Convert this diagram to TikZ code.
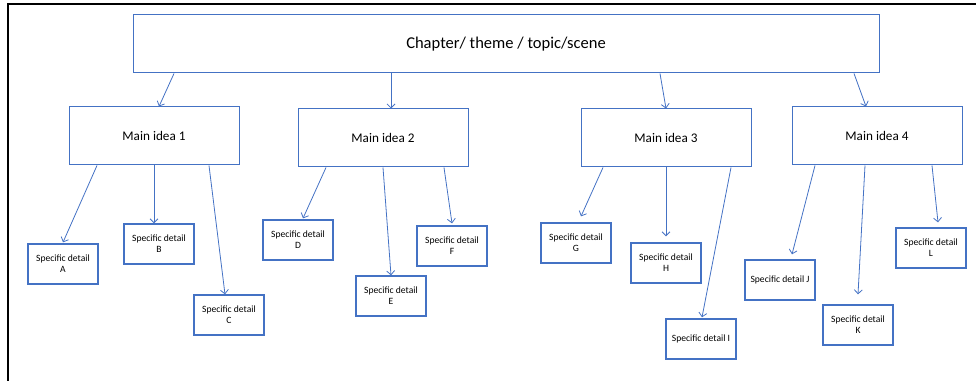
\documentclass[tikz,border=0pt]{standalone}
\usepackage{fontspec}
\setmainfont{Carlito}
\usepackage{xcolor}
\usetikzlibrary{positioning,calc,arrows.meta}
\definecolor{boxblue}{HTML}{4472C4}
\tikzset{
  topbox/.style={draw=boxblue, line width=0.75pt, minimum width=559.5pt, minimum height=43.5pt, font=\fontsize{12.4}{14}\selectfont},
  ideabox/.style={draw=boxblue, line width=0.75pt, minimum width=127.5pt, minimum height=43.5pt, font=\fontsize{9.9}{12}\selectfont},
  detailbox/.style={draw=boxblue, line width=1pt, minimum width=52.5pt, minimum height=30pt, align=center, font=\fontsize{7.2}{8.4}\selectfont},
  link/.style={draw=boxblue, line width=0.6pt, -{Straight Barb[length=3pt,width=6pt]}}
}
\begin{document}
\begin{tikzpicture}[x=0.75pt, y=-0.75pt]
    \useasboundingbox (0,0) rectangle (976,381);
    % Frame
    \draw[line width=1.5pt] (8,381) -- (8,4) -- (976,4);

    % Top
    \node[topbox] (top) at (506,44) {Chapter/ theme / topic/scene};

    % Main ideas
    \node[ideabox] (mi1) at (154,136) {Main idea 1};
    \node[ideabox] (mi2) at (383,138) {Main idea 2};
    \node[ideabox] (mi3) at (666,138) {Main idea 3};
    \node[ideabox] (mi4) at (877,136) {Main idea 4};

    % Details
    \node[detailbox] (dA) at (63,264) {Specific detail\\A};
    \node[detailbox] (dB) at (159,244) {Specific detail\\B};
    \node[detailbox] (dC) at (229,315) {Specific detail\\C};
    \node[detailbox] (dD) at (298,240) {Specific detail\\D};
    \node[detailbox] (dE) at (391,296) {Specific detail\\E};
    \node[detailbox] (dF) at (452,246) {Specific detail\\F};
    \node[detailbox] (dG) at (576,243) {Specific detail\\G};
    \node[detailbox] (dH) at (666,263) {Specific detail\\H};
    \node[detailbox] (dI) at (701,339) {Specific detail I};
    \node[detailbox] (dJ) at (780,280) {Specific detail J};
    \node[detailbox] (dK) at (858,325) {Specific detail\\K};
    \node[detailbox] (dL) at (931,248) {Specific detail\\L};

    % Top to main ideas
    \draw[link] ($(top.south)+(-332,0)$) -- ($(mi1.north)+(5,0)$);
    \draw[link] ($(top.south)+(-115,0)$) -- ($(mi2.north)+(8,0)$);
    \draw[link] ($(top.south)+(154,0)$) -- (mi3.north);
    \draw[link] ($(top.south)+(348,0)$) -- ($(mi4.north)+(-11,0)$);

    % Main ideas to details
    \draw[link] ($(mi1.south)+(-57,0)$) -- ($(dA.north)+(0,-1)$);
    \draw[link] (mi1.south) -- ($(dB.north)+(-5,0)$);
    \draw[link] ($(mi1.south)+(55,0)$) -- ($(dC.north)+(-4,0)$);
    \draw[link] ($(mi2.south)+(-57,0)$) -- ($(dD.north)+(5,-1)$);
    \draw[link] (mi2.south) -- (dE.north);
    \draw[link] ($(mi2.south)+(61,0)$) -- ($(dF.north)+(0,-2)$);
    \draw[link] ($(mi3.south)+(-63,0)$) -- ($(dG.north)+(5,-6)$);
    \draw[link] (mi3.south) -- ($(dH.north)+(0,-6)$);
    \draw[link] ($(mi3.south)+(65,0)$) -- ($(dI.north)+(1,-1)$);
    \draw[link] ($(mi4.south)+(-62,0)$) -- ($(dJ.north)+(12,-5)$);
    \draw[link] ($(mi4.south)+(-12,0)$) -- ($(dK.north)+(0,-10)$);
    \draw[link] ($(mi4.south)+(55,0)$) -- ($(dL.north)+(7,-5)$);
\end{tikzpicture}
\end{document}
